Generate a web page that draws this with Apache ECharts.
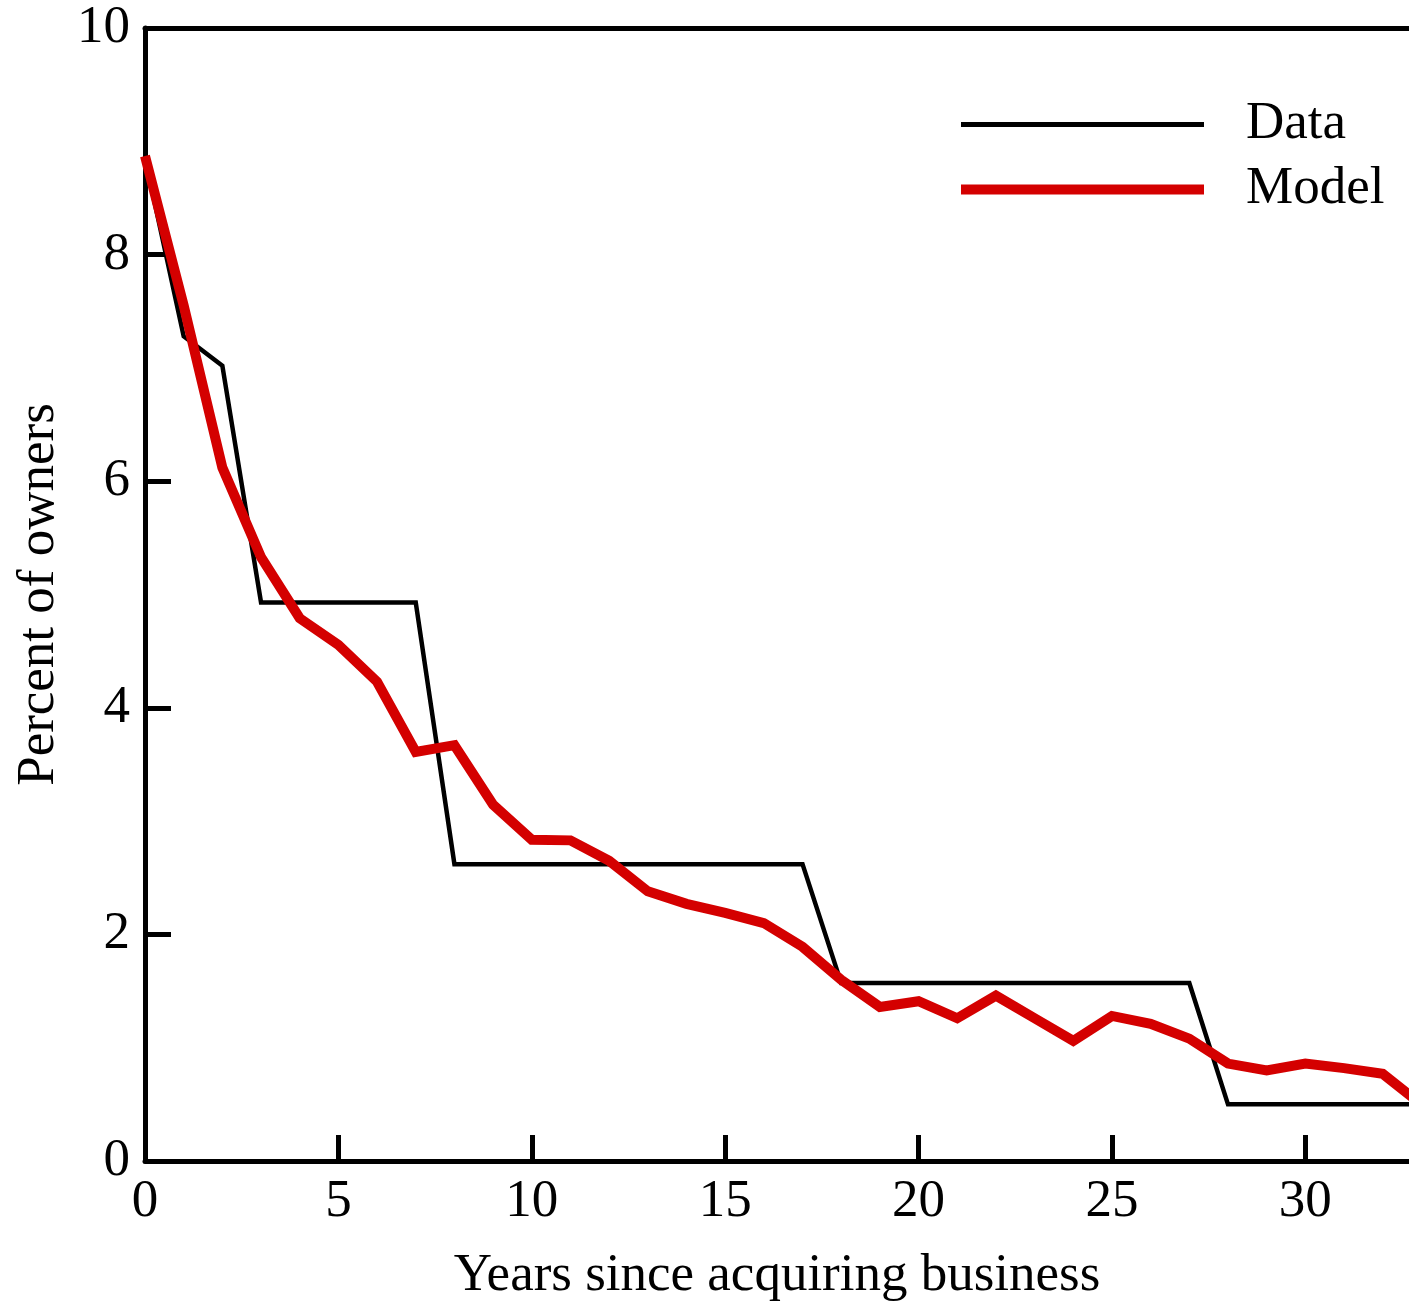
<!DOCTYPE html>
<html>
<head>
<meta charset="utf-8">
<script src="https://cdn.jsdelivr.net/npm/echarts@6/dist/echarts.min.js"></script>
<style>
html,body{margin:0;padding:0;background:#fff;}
#chart{width:1409px;height:1308px;}
</style>
</head>
<body>
<div id="chart"></div>
<script>
var years = [0,1,2,3,4,5,6,7,8,9,10,11,12,13,14,15,16,17,18,19,20,21,22,23,24,25,26,27,28,29,30,31,32,33];
var dataValues = [8.85,7.28,7.02,4.93,4.93,4.93,4.93,4.93,2.62,2.62,2.62,2.62,2.62,2.62,2.62,2.62,2.62,2.62,1.57,1.57,1.57,1.57,1.57,1.57,1.57,1.57,1.57,1.57,0.5,0.5,0.5,0.5,0.5,0.5];
var modelValues = [8.87,7.55,6.12,5.33,4.79,4.555,4.23,3.61,3.67,3.145,2.835,2.83,2.65,2.38,2.27,2.19,2.10,1.89,1.60,1.36,1.41,1.26,1.46,1.26,1.06,1.28,1.21,1.08,0.86,0.80,0.86,0.82,0.77,0.5];
var xTicks = [0,5,10,15,20,25,30];
var yTicks = [0,2,4,6,8,10];

function pairs(xs, ys){ return xs.map(function(x,i){ return [x, ys[i]]; }); }

var FONT = 'Liberation Serif';
var FS = 53;
var chart = echarts.init(document.getElementById('chart'));
chart.setOption({
  backgroundColor: '#fff',
  animation: false,
  textStyle: { fontFamily: FONT, color: '#000' },
  grid: { left: 145, top: 28, right: 0, bottom: 145, containLabel: false },
  legend: [
    {
      data: ['Data'], left: 961, top: 98, padding: 0, selectedMode: false,
      icon: 'rect', itemWidth: 243, itemHeight: 5,
      textStyle: { fontFamily: FONT, fontSize: FS, color: '#000', padding: [0,0,0,37] }
    },
    {
      data: ['Model'], left: 961, top: 163, padding: 0, selectedMode: false,
      icon: 'rect', itemWidth: 243, itemHeight: 10,
      textStyle: { fontFamily: FONT, fontSize: FS, color: '#000', padding: [0,0,0,37] }
    }
  ],
  xAxis: [
    {
      type: 'value', min: 0, max: 32.68, interval: 5, position: 'bottom',
      name: 'Years since acquiring business', nameLocation: 'middle', nameGap: 89,
      nameTextStyle: { fontFamily: FONT, fontSize: FS, color: '#000' },
      axisLine: { show: true, onZero: false, lineStyle: { color: '#000', width: 5 } },
      axisTick: { show: true, inside: true, length: 26, customValues: xTicks, lineStyle: { color: '#000', width: 5 } },
      axisLabel: { show: true, margin: 15, customValues: xTicks, fontFamily: FONT, fontSize: FS, color: '#000' },
      splitLine: { show: false }
    },
    {
      type: 'value', min: 0, max: 32.68, position: 'top',
      axisLine: { show: true, onZero: false, lineStyle: { color: '#000', width: 5 } },
      axisTick: { show: false }, axisLabel: { show: false }, splitLine: { show: false }
    }
  ],
  yAxis: {
    type: 'value', min: 0, max: 10, interval: 2,
    name: 'Percent of owners', nameLocation: 'middle', nameGap: 79,
    nameTextStyle: { fontFamily: FONT, fontSize: FS, color: '#000' },
    axisLine: { show: true, onZero: false, lineStyle: { color: '#000', width: 5 } },
    axisTick: { show: true, inside: true, length: 26, customValues: yTicks, lineStyle: { color: '#000', width: 5 } },
    axisLabel: { show: true, margin: 15, customValues: yTicks, fontFamily: FONT, fontSize: FS, color: '#000' },
    splitLine: { show: false }
  },
  series: [
    {
      name: 'Data', type: 'line', data: pairs(years, dataValues),
      showSymbol: false, symbol: 'none', clip: true, color: '#000',
      lineStyle: { color: '#000', width: 4.5, join: 'miter' }, z: 2
    },
    {
      name: 'Model', type: 'line', data: pairs(years, modelValues),
      showSymbol: false, symbol: 'none', clip: true, color: '#d40000',
      lineStyle: { color: '#d40000', width: 10, join: 'miter' }, z: 3
    }
  ]
});
</script>
</body>
</html>
